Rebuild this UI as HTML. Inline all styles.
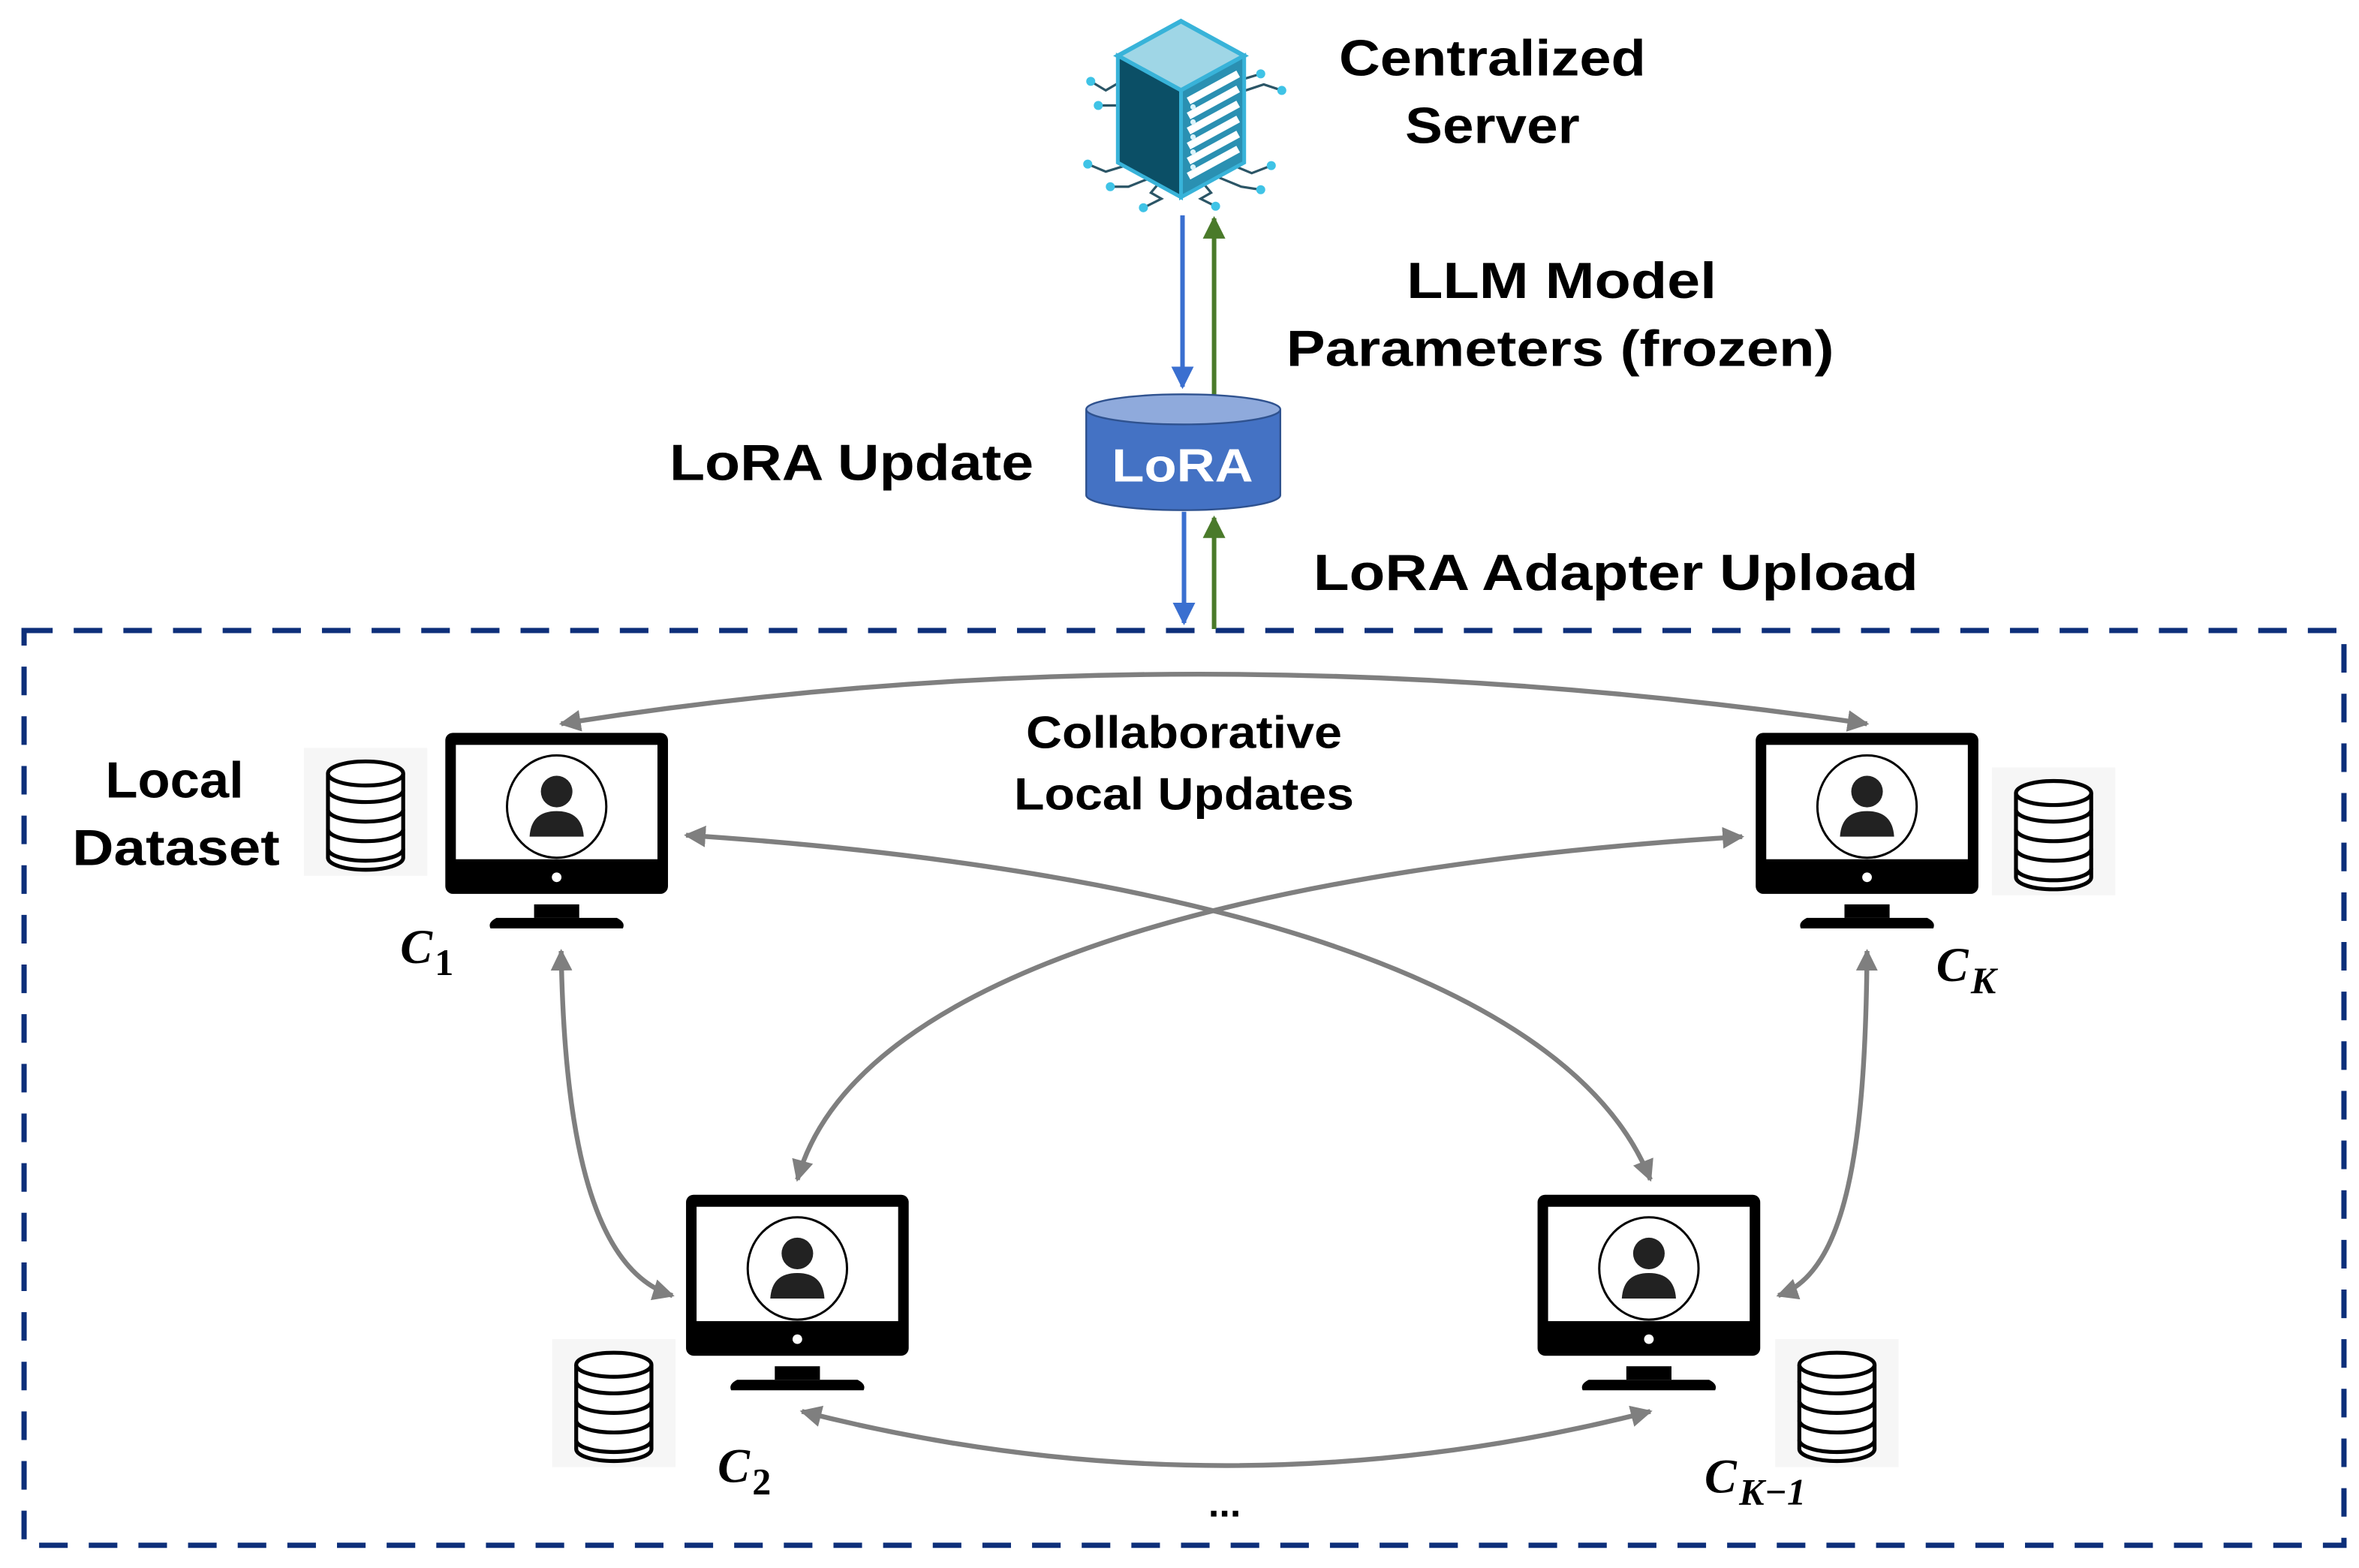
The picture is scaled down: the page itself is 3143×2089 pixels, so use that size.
<!DOCTYPE html>
<html><head><meta charset="utf-8"><style>
html,body{margin:0;padding:0;background:#fff;}
svg{display:block;}
text{font-family:"Liberation Sans",sans-serif;font-weight:bold;fill:#000;}
.m{font-family:"Liberation Serif",serif;font-style:italic;font-weight:bold;}
</style></head><body>
<svg width="3143" height="2089" viewBox="0 0 1568 1042" xmlns="http://www.w3.org/2000/svg">
<defs>
<marker id="ag" viewBox="0 0 10 10" refX="9" refY="5" markerWidth="4.5" markerHeight="4.5" orient="auto-start-reverse" markerUnits="strokeWidth"><path d="M0,0 L10,5 L0,10 z" fill="#7f7f7f"/></marker>
<marker id="ab" viewBox="0 0 10 10" refX="9" refY="5" markerWidth="5" markerHeight="5" orient="auto" markerUnits="strokeWidth"><path d="M0,0 L10,5 L0,10 z" fill="#3a6fd0"/></marker>
<marker id="an" viewBox="0 0 10 10" refX="9" refY="5" markerWidth="5" markerHeight="5" orient="auto" markerUnits="strokeWidth"><path d="M0,0 L10,5 L0,10 z" fill="#4a7a2a"/></marker>
<g id="mon">
<rect x="0" y="0" width="148" height="107" rx="5" fill="#000"/>
<rect x="7" y="8" width="134" height="76" fill="#fff"/>
<ellipse cx="74" cy="49" rx="33" ry="34" fill="none" stroke="#000" stroke-width="1.5"/>
<circle cx="74" cy="39" r="10.5" fill="#222"/>
<path d="M56,69 Q57,52 74,52 Q91,52 92,69 Z" fill="#222"/>
<circle cx="74" cy="96" r="3.2" fill="#fff"/>
<rect x="59" y="114" width="30" height="9" fill="#000"/>
<path d="M34,123 L114,123 Q120,126 118,130 L30,130 Q28,126 34,123 Z" fill="#000"/>
</g>
<g id="db">
<rect x="-16" y="-10" width="82" height="85" fill="#f6f6f6"/>
<g fill="#fff" stroke="#000" stroke-width="2.6">
<path d="M0,57 L0,63 A25,8 0 0 0 50,63 L50,57"/>
<path d="M0,44 L0,57 A25,8 0 0 0 50,57 L50,44"/>
<path d="M0,31 L0,44 A25,8 0 0 0 50,44 L50,31"/>
<path d="M0,18 L0,31 A25,8 0 0 0 50,31 L50,18"/>
<path d="M0,7 L0,18 A25,8 0 0 0 50,18 L50,7"/>
<ellipse cx="25" cy="7" rx="25" ry="8"/>
</g>
</g>
</defs>

<rect x="16" y="419" width="1542" height="608" fill="none" stroke="#0d2f7a" stroke-width="3.5" stroke-dasharray="19,14"/>

<g>
<g stroke="#2b5566" stroke-width="1.6" fill="none">
<path d="M747,53 L735,60 L725,54"/><path d="M745,70 L730,70"/>
<path d="M760,115 L748,110 L735,114 L723,109"/><path d="M765,118 L750,124 L738,124"/>
<path d="M770,122 L765,128 L772,132 L760,138"/>
<path d="M805,112 L820,110 L832,115 L845,110"/><path d="M808,117 L825,124 L838,126"/>
<path d="M800,122 L805,128 L798,132 L808,137"/>
<path d="M828,60 L840,56 L852,60"/><path d="M828,52 L838,49"/>
</g>
<g fill="#3fc3e6">
<circle cx="725" cy="54" r="3"/><circle cx="730" cy="70" r="3"/><circle cx="723" cy="109" r="3"/><circle cx="738" cy="124" r="3"/><circle cx="760" cy="138" r="3"/><circle cx="845" cy="110" r="3"/><circle cx="838" cy="126" r="3"/><circle cx="808" cy="137" r="3"/><circle cx="852" cy="60" r="3"/><circle cx="838" cy="49" r="3"/>
</g>
<path d="M785,14 L827,37 L785,60 L743,37 Z" fill="#9fd6e6" stroke="#38b3d9" stroke-width="3"/>
<path d="M743,37 L785,60 L785,131 L743,108 Z" fill="#0b4f66" stroke="#38b3d9" stroke-width="2.5"/>
<path d="M785,60 L827,37 L827,108 L785,131 Z" fill="#2a90b2" stroke="#38b3d9" stroke-width="2.5"/>
<g stroke="#fff" stroke-width="5">
<path d="M790,67 L823,49"/><path d="M790,77 L823,59"/><path d="M790,87 L823,69"/><path d="M790,97 L823,79"/><path d="M790,107 L823,89"/><path d="M790,117 L823,99"/>
</g>
<g fill="#d9f2f9">
<circle cx="793" cy="71" r="1.8"/><circle cx="793" cy="81" r="1.8"/><circle cx="793" cy="91" r="1.8"/><circle cx="793" cy="101" r="1.8"/><circle cx="793" cy="111" r="1.8"/>
</g>
</g>

<line x1="786" y1="143" x2="786" y2="257" stroke="#3a6fd0" stroke-width="3" marker-end="url(#ab)"/>
<line x1="807" y1="262" x2="807" y2="145" stroke="#4a7a2a" stroke-width="3" marker-end="url(#an)"/>
<path d="M722,272 L722,329 A64.5,10 0 0 0 851,329 L851,272" fill="#4472c4" stroke="#2f528f" stroke-width="1.2"/>
<ellipse cx="786.5" cy="272" rx="64.5" ry="10" fill="#8faadc" stroke="#2f528f" stroke-width="1.2"/>
<text x="786" y="320" text-anchor="middle" font-size="31" style="fill:#fff" textLength="94" lengthAdjust="spacingAndGlyphs">LoRA</text>
<line x1="787" y1="340" x2="787" y2="414" stroke="#3a6fd0" stroke-width="3" marker-end="url(#ab)"/>
<line x1="807" y1="418" x2="807" y2="344" stroke="#4a7a2a" stroke-width="3" marker-end="url(#an)"/>

<text x="992" y="50" text-anchor="middle" font-size="34" textLength="204" lengthAdjust="spacingAndGlyphs">Centralized</text>
<text x="992" y="95" text-anchor="middle" font-size="34" textLength="116" lengthAdjust="spacingAndGlyphs">Server</text>
<text x="1038" y="198" text-anchor="middle" font-size="34" textLength="206" lengthAdjust="spacingAndGlyphs">LLM Model</text>
<text x="1037" y="243" text-anchor="middle" font-size="34" textLength="364" lengthAdjust="spacingAndGlyphs">Parameters (frozen)</text>
<text x="566" y="319" text-anchor="middle" font-size="34" textLength="242" lengthAdjust="spacingAndGlyphs">LoRA Update</text>
<text x="1074" y="392" text-anchor="middle" font-size="34" textLength="402" lengthAdjust="spacingAndGlyphs">LoRA Adapter Upload</text>
<text x="116" y="530" text-anchor="middle" font-size="34" textLength="92" lengthAdjust="spacingAndGlyphs">Local</text>
<text x="117" y="575" text-anchor="middle" font-size="34" textLength="138" lengthAdjust="spacingAndGlyphs">Dataset</text>
<text x="787" y="497" text-anchor="middle" font-size="30" textLength="210" lengthAdjust="spacingAndGlyphs">Collaborative</text>
<text x="787" y="538" text-anchor="middle" font-size="30" textLength="226" lengthAdjust="spacingAndGlyphs">Local Updates</text>

<g fill="none" stroke="#7f7f7f" stroke-width="3.2">
<path d="M373,481 Q787,415 1241,481" marker-start="url(#ag)" marker-end="url(#ag)"/>
<path d="M456,555 C760,575 1040,640 1097,784" marker-start="url(#ag)" marker-end="url(#ag)"/>
<path d="M1158,556 C850,575 570,640 530,784" marker-start="url(#ag)" marker-end="url(#ag)"/>
<path d="M373,632 C375,760 395,845 447,861" marker-start="url(#ag)" marker-end="url(#ag)"/>
<path d="M1241,632 C1240,760 1228,845 1182,861" marker-start="url(#ag)" marker-end="url(#ag)"/>
<path d="M533,938 Q815,1010 1097,938" marker-start="url(#ag)" marker-end="url(#ag)"/>
</g>

<use href="#mon" x="296" y="487"/>
<use href="#mon" x="1167" y="487"/>
<use href="#mon" x="456" y="794"/>
<use href="#mon" x="1022" y="794"/>

<use href="#db" x="218" y="507"/>
<use href="#db" x="1340" y="520"/>
<use href="#db" x="383" y="900"/>
<use href="#db" x="1196" y="900"/>

<text class="m" x="266" y="640" font-size="32">C</text><text class="m" x="289" y="648" font-size="25" style="font-style:normal">1</text>
<text class="m" x="1287" y="652" font-size="32">C</text><text class="m" x="1310" y="660" font-size="25">K</text>
<text class="m" x="477" y="985" font-size="32">C</text><text class="m" x="500" y="993" font-size="25" style="font-style:normal">2</text>
<text class="m" x="1133" y="992" font-size="32">C</text><text class="m" x="1156" y="1000" font-size="25">K−1</text>
<text x="814" y="1008" text-anchor="middle" font-size="26">...</text>
</svg>
</body></html>
